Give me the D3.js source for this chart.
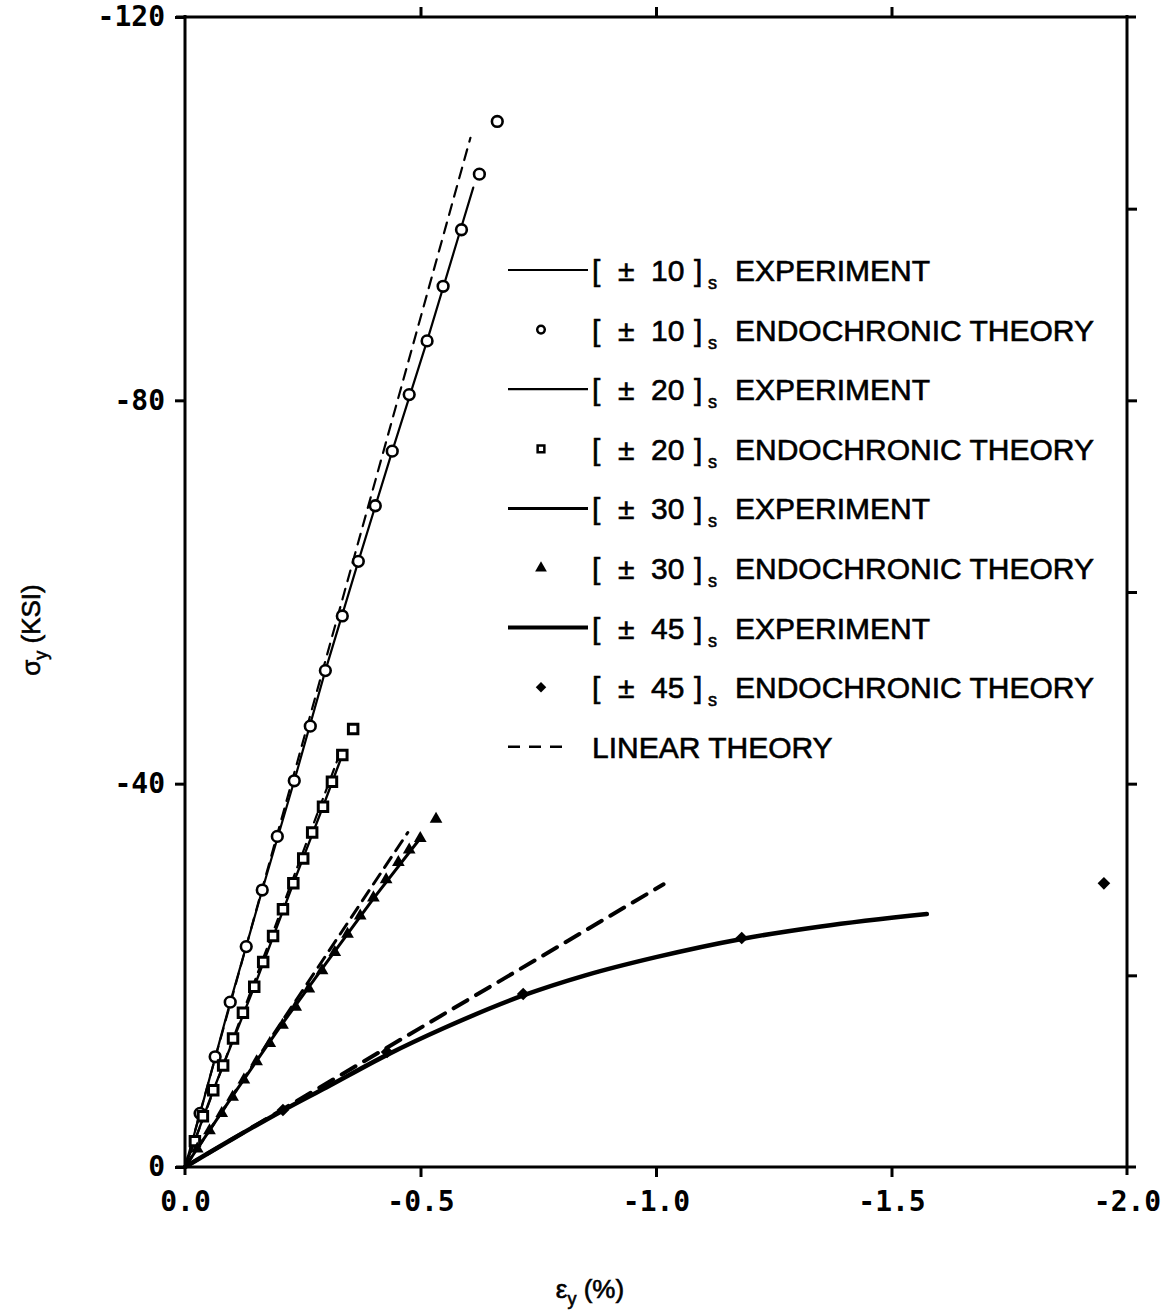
<!DOCTYPE html>
<html><head><meta charset="utf-8">
<script src="https://cdn.jsdelivr.net/npm/d3@7"></script>
<style>
html,body{margin:0;padding:0;background:#fff;}
svg{display:block;}
</style></head>
<body>
<svg id="chart" width="1166" height="1312"></svg>
<script>
// ---------- data (strain %, stress ksi) ----------
const xTickValues = [0, -0.5, -1.0, -1.5, -2.0];
const xTickLabels = ["0.0", "-0.5", "-1.0", "-1.5", "-2.0"];
const yTickValues = [0, -40, -80, -120];
const yTickLabels = ["0", "-40", "-80", "-120"];
const yRightTicks = [-20, -40, -60, -80, -100];
const xTopTicks = [-0.5, -1.0, -1.5];

const exp10 = [[0,0],[-0.032,-5.6],[-0.096,-17.2],[-0.164,-28.9],[-0.232,-40.3],[-0.298,-51.8],[-0.368,-63.2],[-0.440,-74.7],[-0.514,-86.2],[-0.585,-97.8],[-0.612,-102.2]];
const theory10 = [[-0.032,-5.6],[-0.064,-11.5],[-0.096,-17.2],[-0.130,-23.0],[-0.164,-28.9],[-0.196,-34.5],[-0.232,-40.3],[-0.266,-46.0],[-0.298,-51.8],[-0.334,-57.5],[-0.368,-63.2],[-0.404,-69.0],[-0.440,-74.7],[-0.476,-80.6],[-0.514,-86.2],[-0.548,-91.9],[-0.587,-97.8],[-0.625,-103.6],[-0.663,-109.1]];
const linear10 = [[0,0],[-0.606,-107.4]];

const exp20 = [[0,0],[-0.060,-8.0],[-0.147,-18.8],[-0.230,-29.6],[-0.293,-37.6],[-0.334,-43.0]];
const theory20 = [[-0.021,-2.7],[-0.038,-5.3],[-0.060,-8.0],[-0.081,-10.6],[-0.102,-13.4],[-0.123,-16.1],[-0.147,-18.8],[-0.166,-21.4],[-0.187,-24.1],[-0.208,-26.9],[-0.230,-29.6],[-0.251,-32.2],[-0.270,-34.9],[-0.293,-37.6],[-0.312,-40.2],[-0.334,-43.0],[-0.357,-45.7]];
const linear20 = [[0,0],[-0.330,-43.3]];

const exp30 = [[0,0],[-0.100,-7.35],[-0.200,-14.5],[-0.300,-21.3],[-0.400,-28.0],[-0.4995,-34.3]];
const theory30 = [[-0.026,-1.9],[-0.052,-3.8],[-0.078,-5.6],[-0.101,-7.3],[-0.125,-9.1],[-0.152,-11.0],[-0.180,-12.9],[-0.207,-14.8],[-0.235,-16.7],[-0.263,-18.6],[-0.291,-20.5],[-0.318,-22.4],[-0.345,-24.3],[-0.372,-26.2],[-0.400,-28.1],[-0.427,-30.0],[-0.453,-31.8],[-0.476,-33.1],[-0.4995,-34.3],[-0.533,-36.3]];
const linear30 = [[0,0],[-0.473,-34.9]];

const exp45 = [[0,0],[-0.100,-2.9],[-0.208,-5.9],[-0.300,-8.3],[-0.429,-11.7],[-0.550,-14.5],[-0.718,-17.9],[-0.850,-20.0],[-1.000,-21.9],[-1.182,-23.8],[-1.350,-25.1],[-1.575,-26.4]];
const theory45 = [[-0.208,-5.95],[-0.429,-12.0],[-0.718,-18.05],[-1.182,-23.9],[-1.951,-29.6]];
const linear45 = [[0,0],[-1.016,-29.5]];

const legendAngles = ["10","10","20","20","30","30","45","45"];
const legendKinds = ["EXPERIMENT","ENDOCHRONIC THEORY","EXPERIMENT","ENDOCHRONIC THEORY","EXPERIMENT","ENDOCHRONIC THEORY","EXPERIMENT","ENDOCHRONIC THEORY"];
const legendLinear = "LINEAR THEORY";

// ---------- drawing ----------
const svg = d3.select("#chart");
const x = d3.scaleLinear().domain([0, -2]).range([185, 1127]);
const y = d3.scaleLinear().domain([0, -120]).range([1167, 17]);

const line = d3.line().x(d => x(d[0])).y(d => y(d[1]));
const curve = d3.line().x(d => x(d[0])).y(d => y(d[1])).curve(d3.curveMonotoneX);

// frame
const frame = svg.append("g").attr("stroke", "#000").attr("stroke-width", 3).attr("fill", "none");
frame.append("line").attr("x1", 176).attr("x2", 1136).attr("y1", y(-120)).attr("y2", y(-120));
frame.append("line").attr("x1", 176).attr("x2", 1136).attr("y1", y(0)).attr("y2", y(0));
frame.append("line").attr("x1", x(0)).attr("x2", x(0)).attr("y1", y(-120) - 2).attr("y2", y(0) + 8);
frame.append("line").attr("x1", x(-2)).attr("x2", x(-2)).attr("y1", y(-120) - 2).attr("y2", y(0) + 8);

// axes
const fontTick = "'DejaVu Sans Mono', monospace";
const xAxis = d3.axisBottom(x).tickValues(xTickValues).tickSize(10).tickPadding(14)
  .tickFormat((d, i) => xTickLabels[i]);
const gx = svg.append("g").attr("transform", `translate(0,${y(0)})`).call(xAxis);
gx.select(".domain").remove();
gx.selectAll(".tick line").attr("stroke-width", 3).attr("stroke", (d) => (d === 0 || d === -2) ? "none" : "#000");
gx.selectAll(".tick text").attr("font-family", fontTick).attr("font-size", 28).attr("font-weight", "bold").attr("fill", "#000");

const yAxis = d3.axisLeft(y).tickValues(yTickValues).tickSize(10).tickPadding(10)
  .tickFormat((d, i) => yTickLabels[i]);
const gy = svg.append("g").attr("transform", `translate(${x(0)},0)`).call(yAxis);
gy.select(".domain").remove();
gy.selectAll(".tick line").attr("stroke-width", 3);
gy.selectAll(".tick text").attr("font-family", fontTick).attr("font-size", 28).attr("font-weight", "bold").attr("fill", "#000");

const gt = svg.append("g").attr("transform", `translate(0,${y(-120)})`)
  .call(d3.axisTop(x).tickValues(xTopTicks).tickSize(10).tickFormat(""));
gt.select(".domain").remove();
gt.selectAll(".tick line").attr("stroke-width", 3);

const gr = svg.append("g").attr("transform", `translate(${x(-2)},0)`)
  .call(d3.axisRight(y).tickValues(yRightTicks).tickSize(10).tickFormat(""));
gr.select(".domain").remove();
gr.selectAll(".tick line").attr("stroke-width", 3);

// axis titles
svg.append("text").attr("transform", "translate(40,630) rotate(-90)")
  .attr("text-anchor", "middle").attr("font-family", "'Liberation Sans', Arial, sans-serif")
  .attr("font-size", 26).attr("fill", "#000").attr("stroke", "#000").attr("stroke-width", 0.6)
  .html('σ<tspan font-size="18" dy="7">y</tspan><tspan dy="-7"> (KSI)</tspan>');
svg.append("text").attr("x", 590).attr("y", 1298)
  .attr("text-anchor", "middle").attr("font-family", "'Liberation Sans', Arial, sans-serif")
  .attr("font-size", 26).attr("fill", "#000").attr("stroke", "#000").attr("stroke-width", 0.6)
  .html('ε<tspan font-size="18" dy="7">y</tspan><tspan dy="-7"> (%)</tspan>');

// curves
const plot = svg.append("g").attr("fill", "none").attr("stroke", "#000").attr("stroke-linecap", "round");
plot.append("path").datum(linear10).attr("d", line).attr("stroke-width", 2.2).attr("stroke-dasharray", "11 8");
plot.append("path").datum(exp10).attr("d", line).attr("stroke-width", 2.2);
plot.append("path").datum(linear20).attr("d", line).attr("stroke-width", 2.2).attr("stroke-dasharray", "9 7");
plot.append("path").datum(exp20).attr("d", line).attr("stroke-width", 2.4);
plot.append("path").datum(linear30).attr("d", line).attr("stroke-width", 3).attr("stroke-dasharray", "12 8");
plot.append("path").datum(exp30).attr("d", line).attr("stroke-width", 3);
plot.append("path").datum(linear45).attr("d", line).attr("stroke-width", 4).attr("stroke-dasharray", "16 10");
plot.append("path").datum(exp45).attr("d", curve).attr("stroke-width", 4.5);

// markers
const sym = {
  circle: d3.symbol().type(d3.symbolCircle).size(90),
  square: d3.symbol().type(d3.symbolSquare).size(90),
  tri: d3.symbol().type(d3.symbolTriangle).size(70),
  diamond: d3.symbol().type(d3.symbolSquare).size(80)
};
const mk = svg.append("g");
mk.selectAll(".c10").data(theory10).join("path")
  .attr("transform", d => `translate(${x(d[0])},${y(d[1])})`).attr("d", sym.circle())
  .attr("fill", "#fff").attr("stroke", "#000").attr("stroke-width", 2.6);
mk.selectAll(".s20").data(theory20).join("path")
  .attr("transform", d => `translate(${x(d[0])},${y(d[1])})`).attr("d", sym.square())
  .attr("fill", "#fff").attr("stroke", "#000").attr("stroke-width", 3);
mk.selectAll(".t30").data(theory30).join("path")
  .attr("transform", d => `translate(${x(d[0])},${y(d[1])})`).attr("d", sym.tri())
  .attr("fill", "#000");
mk.selectAll(".d45").data(theory45).join("path")
  .attr("transform", d => `translate(${x(d[0])},${y(d[1])}) rotate(45)`).attr("d", sym.diamond())
  .attr("fill", "#000");

// legend
const legY0 = 270, legDY = 59.6;
const lg = svg.append("g").attr("font-family", "'Liberation Sans', Arial, sans-serif").attr("fill", "#000");
const lineWidths = [1.8, 2.2, 3, 4];
const legSyms = [d3.symbolCircle, d3.symbolSquare, d3.symbolTriangle, d3.symbolSquare];
legendKinds.forEach((kind, i) => {
  const yy = legY0 + i * legDY;
  if (i % 2 === 0) {
    lg.append("line").attr("x1", 508).attr("x2", 588).attr("y1", yy).attr("y2", yy)
      .attr("stroke", "#000").attr("stroke-width", lineWidths[i / 2]);
  } else {
    const k = (i - 1) / 2;
    const filled = k >= 2;
    lg.append("path").attr("transform", `translate(541,${yy})` + (k === 3 ? " rotate(45)" : ""))
      .attr("d", d3.symbol().type(legSyms[k]).size(k === 3 ? 55 : (filled ? 60 : 45))())
      .attr("fill", filled ? "#000" : "#fff").attr("stroke", "#000").attr("stroke-width", filled ? 0 : 2.5);
  }
  const t = lg.append("text").attr("y", yy + 11).attr("font-size", 30)
    .attr("stroke", "#000").attr("stroke-width", 0.6);
  t.append("tspan").attr("x", 592).text("[");
  t.append("tspan").attr("x", 618).text("±");
  t.append("tspan").attr("x", 651).text(legendAngles[i]);
  t.append("tspan").attr("x", 694).text("]");
  t.append("tspan").attr("x", 708).attr("dy", 8).attr("font-size", 18).text("s");
  t.append("tspan").attr("x", 735).attr("dy", -8).text(kind);
});
{
  const yy = legY0 + 8 * legDY;
  lg.append("line").attr("x1", 508).attr("x2", 562).attr("y1", yy).attr("y2", yy)
    .attr("stroke", "#000").attr("stroke-width", 2.5).attr("stroke-dasharray", "12 9");
  lg.append("text").attr("x", 592).attr("y", yy + 11).attr("font-size", 30)
    .attr("stroke", "#000").attr("stroke-width", 0.6).text(legendLinear);
}
</script>
</body></html>
